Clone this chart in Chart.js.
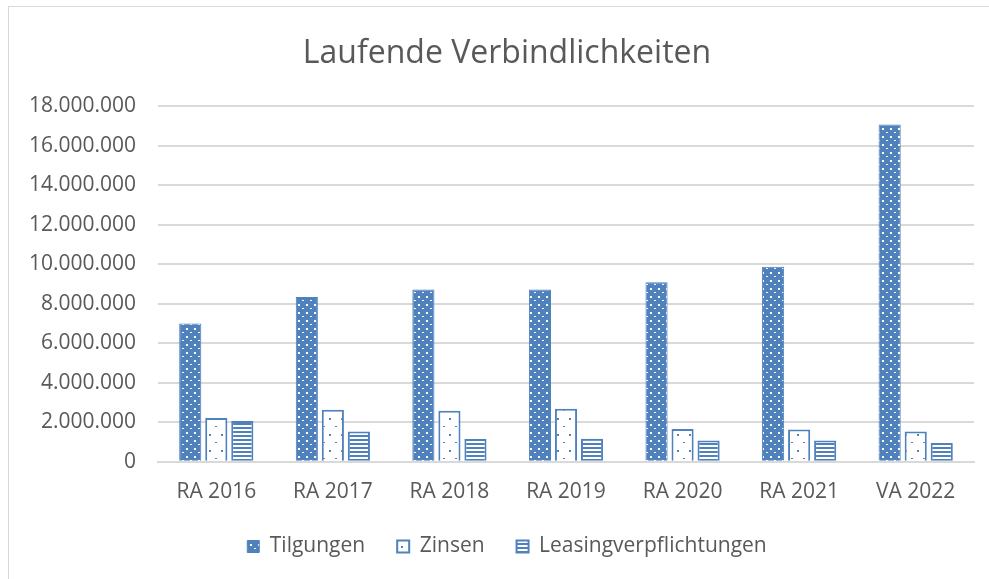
<!DOCTYPE html>
<html lang="de">
<head>
<meta charset="UTF-8">
<title>Laufende Verbindlichkeiten</title>
<script src="https://cdn.jsdelivr.net/npm/chart.js@4.4.0/dist/chart.umd.min.js"></script>
<style>
    html, body { margin: 0; padding: 0; background: #fff; overflow: hidden; }
    .rahmen {
        position: absolute; left: 8px; top: 6px;
        width: 996px; height: 600px;
        border: 1px solid #d9d9d9;
    }
    canvas { display: block; }
</style>
</head>
<body>
<div class="rahmen">
    <canvas id="grafico" width="996" height="570"></canvas>
</div>

<script>
const kategorien = ['RA 2016', 'RA 2017', 'RA 2018', 'RA 2019', 'RA 2020', 'RA 2021', 'VA 2022'];
const tilgungen = [7000000, 8350000, 8730000, 8730000, 9100000, 9880000, 17080000];
const zinsen = [2220000, 2630000, 2580000, 2690000, 1660000, 1630000, 1530000];
const leasing = [2070000, 1530000, 1150000, 1170000, 1080000, 1080000, 950000];
const yTicks = [0, 2000000, 4000000, 6000000, 8000000, 10000000, 12000000, 14000000, 16000000, 18000000];

const blau = '#4f81bd';
const grau = '#595959';

// kleine Muster wie in Excel
function muster(w, h, zeichnen) {
    const c = document.createElement('canvas');
    c.width = w; c.height = h;
    const g = c.getContext('2d');
    zeichnen(g);
    return document.getElementById('grafico').getContext('2d').createPattern(c, 'repeat');
}

const punkteBlau = muster(8, 8, function (g) {
    g.fillStyle = blau; g.fillRect(0, 0, 8, 8);
    g.fillStyle = '#fff';
    g.fillRect(1, 1, 2, 2);
    g.fillRect(5, 5, 2, 1);
});
const punkteWeiss = muster(12, 16, function (g) {
    g.fillStyle = '#fff'; g.fillRect(0, 0, 12, 16);
    g.fillStyle = blau;
    g.fillRect(2, 3, 2, 1);
    g.fillRect(8, 11, 2, 2);
});
const streifen = muster(4, 4, function (g) {
    g.fillStyle = '#fff'; g.fillRect(0, 0, 4, 4);
    g.fillStyle = blau; g.fillRect(0, 0, 4, 2);
});

const fmt = new Intl.NumberFormat('de-DE');
const schrift = { family: 'Open Sans', size: 21 };

new Chart(document.getElementById('grafico'), {
    type: 'bar',
    data: {
        labels: kategorien,
        datasets: [
            { label: 'Tilgungen', data: tilgungen, backgroundColor: punkteBlau, borderColor: blau, borderWidth: 1 },
            { label: 'Zinsen', data: zinsen, backgroundColor: punkteWeiss, borderColor: blau, borderWidth: 2 },
            { label: 'Leasingverpflichtungen', data: leasing, backgroundColor: streifen, borderColor: blau, borderWidth: 2 }
        ]
    },
    options: {
        responsive: false,
        animation: false,
        datasets: { bar: { categoryPercentage: 0.67, barPercentage: 0.85 } },
        layout: { padding: { left: 0, right: 0, top: 0, bottom: 10 } },
        plugins: {
            title: {
                display: true,
                text: 'Laufende Verbindlichkeiten',
                color: grau,
                font: { family: 'Open Sans', size: 32, weight: 'normal' },
                padding: { top: 28, bottom: 33 }
            },
            legend: {
                position: 'bottom',
                labels: {
                    color: grau,
                    font: schrift,
                    boxWidth: 12,
                    boxHeight: 12,
                    padding: 32
                }
            },
            tooltip: { enabled: false }
        },
        scales: {
            x: {
                grid: { display: false },
                border: { color: '#d9d9d9', width: 2 },
                ticks: { color: grau, font: schrift, padding: 10 },
                afterFit: function (s) { s.height = s.height - 11; }
            },
            y: {
                min: 0,
                max: 18000000,
                afterBuildTicks: function (s) { s.ticks = yTicks.map(v => ({ value: v })); },
                afterFit: function (s) { s.width = 149; },
                grid: { color: '#d9d9d9', lineWidth: 2, drawTicks: false },
                border: { display: false },
                ticks: {
                    color: grau,
                    font: schrift,
                    padding: 22,
                    callback: function (v) { return fmt.format(v); }
                }
            },
            // leerer Rand rechts, damit Titel und Legende mittig bleiben
            rand: {
                position: 'right',
                display: true,
                grid: { display: false },
                border: { display: false },
                ticks: { display: false },
                afterFit: function (s) { s.width = 31; }
            }
        }
    }
});
</script>
</body>
</html>
